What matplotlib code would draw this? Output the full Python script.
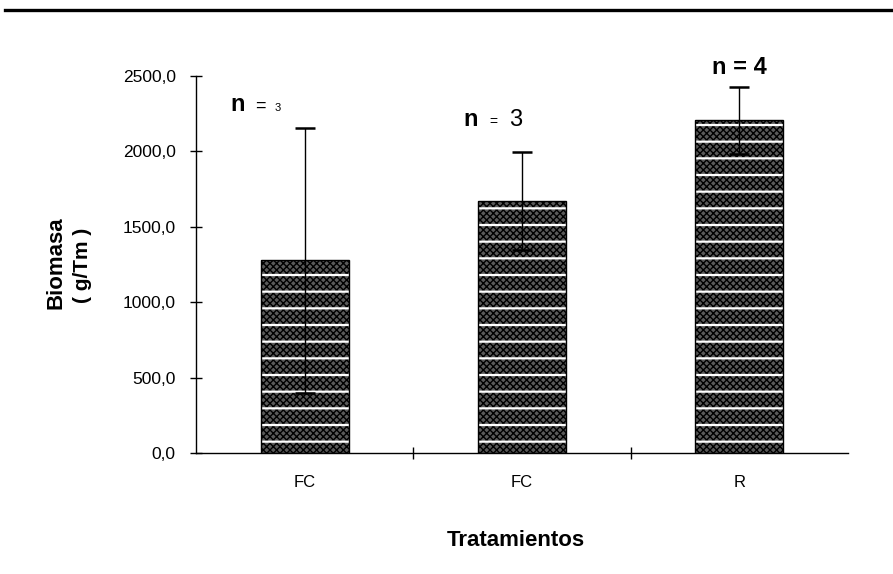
import numpy as np
import matplotlib
matplotlib.use("Agg")
import matplotlib.pyplot as plt
from matplotlib.ticker import FuncFormatter

plt.rcParams['font.family'] = ['Liberation Sans', 'DejaVu Sans']
plt.rcParams['hatch.linewidth'] = 1.0

# data
tratamientos = ['FC', 'FC', 'R']
biomasa = [1278, 1672, 2205]
error = [880, 325, 225]

fig = plt.figure(figsize=(8.93, 5.74), dpi=100)
ax = fig.add_axes([0.2195, 0.2108, 0.730, 0.6568])

x = np.arange(len(tratamientos))
# textured bars: dotted fill, white horizontal stripes, black outline
ax.bar(x, biomasa, width=0.405, color='#5a5a5a', edgecolor='black',
       hatch='xxxxx', linewidth=0, zorder=2)
with plt.rc_context({'hatch.linewidth': 1.6}):
    ax.bar(x, biomasa, width=0.405, color='none', edgecolor='white',
           hatch='-', linewidth=0, zorder=2)
ax.bar(x, biomasa, width=0.405, color='none', edgecolor='black',
       linewidth=1.0, zorder=2)
ax.errorbar(x, biomasa, yerr=error, fmt='none', ecolor='black',
            elinewidth=1.0, capsize=7, capthick=1.8, zorder=3)

ax.set_xlim(-0.5, 2.5)
ax.set_ylim(0, 2500)
ax.set_yticks(np.arange(0, 2501, 500))
ax.yaxis.set_major_formatter(FuncFormatter(lambda v, p: ('%.1f' % v).replace('.', ',')))
ax.set_xticks(x)
ax.set_xticklabels(tratamientos, fontsize=12)
ax.set_xticks([0.5, 1.5], minor=True)
ax.tick_params(axis='x', which='major', length=0, pad=16)
ax.tick_params(axis='x', which='minor', direction='inout', length=8, width=1)
ax.tick_params(axis='y', direction='inout', length=9, width=1, labelsize=12.5, pad=10)

for s in ['top', 'right']:
    ax.spines[s].set_visible(False)
ax.spines['left'].set_linewidth(1.0)
ax.spines['bottom'].set_linewidth(1.0)

# n labels
ax.text(-0.34, 2270, 'n', fontsize=17, fontweight='bold')
ax.text(-0.23, 2270, '=', fontsize=13)
ax.text(-0.14, 2270, '3', fontsize=8)
ax.text(0.73, 2170, 'n', fontsize=17, fontweight='bold')
ax.text(0.85, 2170, '=', fontsize=10)
ax.text(0.94, 2170, '3', fontsize=17)
ax.text(2, 2510, 'n = 4', fontsize=17, fontweight='bold', ha='center')

# axis labels
fig.text(56 / 893, 1 - 263 / 574, 'Biomasa', rotation=90, fontsize=16,
         fontweight='bold', ha='center', va='center')
fig.text(83 / 893, 1 - 265 / 574, '( g/Tm )', rotation=90, fontsize=15,
         fontweight='bold', ha='center', va='center')
fig.text(516 / 893, 1 - 540 / 574, 'Tratamientos', fontsize=16,
         fontweight='bold', ha='center', va='center')

# top rule
fig.add_artist(plt.Line2D([5 / 893, 1], [1 - 10 / 574, 1 - 10 / 574],
                          color='black', linewidth=2.4))

fig.savefig('out.png', dpi=100)
